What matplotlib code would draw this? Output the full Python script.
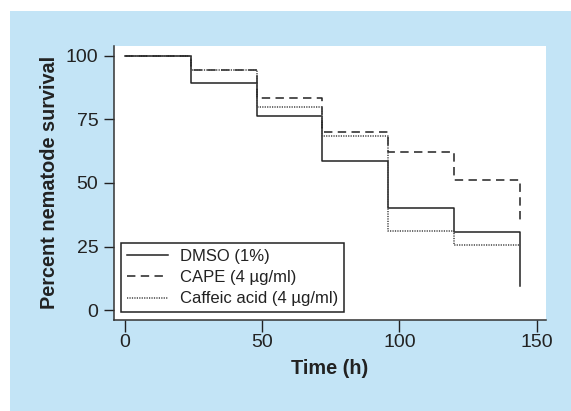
import matplotlib
matplotlib.use("Agg")
import matplotlib.pyplot as plt
from matplotlib.patches import Rectangle

# ---- data ----
times = [0, 24, 48, 72, 96, 120, 144]
dmso = [100, 89.4, 76.4, 58.5, 40.3, 30.6, 9.7]
cape = [100, 94.3, 83.5, 70.2, 62.0, 51.1, 35.3]
caffeic = [100, 94.3, 79.9, 68.4, 31.3, 25.5, 25.5]
labels = ["DMSO (1%)", "CAPE (4 µg/ml)", "Caffeic acid (4 µg/ml)"]
xticks = [0, 50, 100, 150]
yticks = [0, 25, 50, 75, 100]

plt.rcParams['font.family'] = ['Liberation Sans', 'DejaVu Sans']

W, H = 571, 411
fig = plt.figure(figsize=(W / 100, H / 100), dpi=100)
fig.patch.set_facecolor('white')
fig.patches.append(Rectangle((10 / W, 0), 1 - 10 / W, 1 - 11 / H,
                             transform=fig.transFigure, facecolor='#c3e4f6',
                             edgecolor='none', zorder=-10))

ax = fig.add_axes([114 / W, 91 / H, 432 / W, 274.3 / H])
ax.set_zorder(5)
ax.set_facecolor('white')

lc = '#222222'
ax.step(times, dmso, where='post', color=lc, lw=1.1, label=labels[0])
ax.step(times, cape, where='post', color=lc, lw=1.1, dashes=(5.5, 3.5), label=labels[1])
ax.step(times, caffeic, where='post', color='#444444', lw=1.1, dashes=(0.8, 0.8), label=labels[2])

ax.set_xlim(-3.9, 153.4)
ax.set_ylim(-3.8, 103.9)
ax.set_xticks(xticks)
ax.set_yticks(yticks)
ax.tick_params(direction='out', width=1, colors='#222222', labelsize=14)
ax.tick_params(axis='x', length=8.3, pad=2.1)
ax.tick_params(axis='y', length=7.3, pad=4.0)
for s in ['top', 'right']:
    ax.spines[s].set_visible(False)
for s in ['left', 'bottom']:
    ax.spines[s].set_color('#333333')
    ax.spines[s].set_linewidth(1.1)

ax.set_xlabel('Time (h)', fontsize=14.3, fontweight='bold', color='#222222', labelpad=5.4)
ax.set_ylabel('Percent nematode survival', fontsize=14.3, fontweight='bold', color='#222222')
ax.yaxis.set_label_coords(-0.127, 0.5)

leg = ax.legend(loc='lower left', bbox_to_anchor=(7 / 432, 7.7 / 274.3), borderaxespad=0,
                fontsize=12, frameon=True, fancybox=False, edgecolor='#222222',
                handlelength=2.45, handletextpad=0.75, labelspacing=0.38,
                borderpad=0.35)
leg.get_frame().set_linewidth(1.1)
leg.get_frame().set_alpha(1)
for t in leg.get_texts():
    t.set_color('#222222')

fig.savefig('out.png', dpi=100, facecolor=fig.get_facecolor())
